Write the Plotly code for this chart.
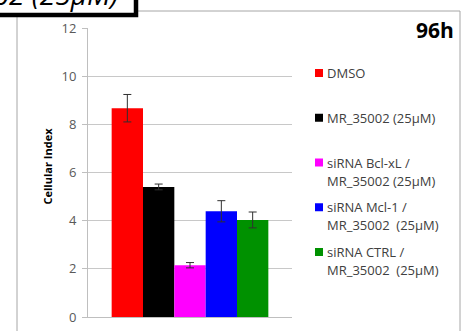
import plotly.graph_objects as go

# ---- data ----
categories = ["DMSO", "MR_35002 (25µM)", "siRNA Bcl-xL /\nMR_35002 (25µM)",
              "siRNA Mcl-1 /\nMR_35002\u00a0\u00a0(25µM)", "siRNA CTRL /\nMR_35002\u00a0\u00a0(25µM)"]
values = [8.67, 5.40, 2.15, 4.39, 4.03]
errors = [0.57, 0.12, 0.11, 0.44, 0.33]
colors = ["#FF0000", "#000000", "#FF00FF", "#0000FF", "#009100"]
y_ticks = [0, 2, 4, 6, 8, 10, 12]
time_label = "96h"
y_title = "Cellular Index"
box_title = "MR_35002 (25µM)"

# ---- layout helpers (pixel -> paper) ----
W, H = 463, 331
L, R, T, B = 88, 292, 28, 317
def px(x): return (x - L) / (R - L)
def py(y): return (B - y) / (B - T)

FONT = "Open Sans"
fig = go.Figure()
for name, v, e, c in zip(categories, values, errors, colors):
    fig.add_trace(go.Bar(
        x=[""], y=[v], name=name, marker=dict(color=c, line=dict(width=0)),
        error_y=dict(type="data", array=[e], color="#303030", thickness=1, width=4),
        showlegend=False))

fig.update_layout(
    width=W, height=H, barmode="group", bargap=0.232,
    margin=dict(l=L, r=W - R, t=T, b=H - B, autoexpand=False),
    paper_bgcolor="white", plot_bgcolor="white",
    font=dict(family=FONT, color="#595959"),
    xaxis=dict(showticklabels=False, showline=True, linecolor="#bfbfbf", linewidth=1,
               ticks="", showgrid=False, zeroline=False, automargin=False),
    yaxis=dict(range=[0, 12], tickvals=y_ticks, showline=True, linecolor="#bfbfbf",
               linewidth=1, ticks="outside", ticklen=5, tickcolor="#bfbfbf",
               gridcolor="#c8c8c8", gridwidth=1, zeroline=False, automargin=False,
               ticklabelstandoff=3,
               tickfont=dict(size=13, color="#595959", family=FONT)),
)

shapes = []
# chart border
shapes.append(dict(type="rect", xref="paper", yref="paper", x0=px(17), x1=px(460),
                   y0=py(345), y1=py(11), line=dict(color="#a6a6a6", width=1),
                   fillcolor="rgba(0,0,0,0)", layer="below"))
# title box
shapes.append(dict(type="rect", xref="paper", yref="paper", x0=px(-20), x1=px(136),
                   y0=py(15), y1=py(-20), line=dict(color="black", width=4.5),
                   fillcolor="white", layer="above"))

annotations = []
annotations.append(dict(text=box_title, xref="paper", yref="paper", x=px(120), y=py(15),
                        xanchor="right", yanchor="bottom", showarrow=False,
                        font=dict(family=FONT, size=28, color="black", style="italic")))
annotations.append(dict(text="<b>" + time_label + "</b>", xref="paper", yref="paper",
                        x=px(456), y=py(30), xanchor="right", yanchor="middle", showarrow=False,
                        font=dict(family=FONT, size=21, color="black")))
annotations.append(dict(text="<b>" + y_title + "</b>", xref="paper", yref="paper",
                        x=px(47), y=py(166.5), textangle=-90, xanchor="center",
                        yanchor="middle", showarrow=False,
                        font=dict(family=FONT, size=11, color="black")))

# manual legend
leg_y0, leg_gap, line_h = 73, 44.75, 18
for i, (name, c) in enumerate(zip(categories, colors)):
    yc = leg_y0 + i * leg_gap
    shapes.append(dict(type="rect", xref="paper", yref="paper", x0=px(315), x1=px(323),
                       y0=py(yc + 4), y1=py(yc - 4), line=dict(width=0), fillcolor=c,
                       layer="above"))
    for j, line in enumerate(name.split("\n")):
        annotations.append(dict(text=line, xref="paper", yref="paper", x=px(325),
                                y=py(yc + j * line_h), xanchor="left", yanchor="middle",
                                showarrow=False,
                                font=dict(family=FONT, size=13, color="#404040")))

fig.update_layout(shapes=shapes, annotations=annotations)
fig.write_html("out.html", config={"displayModeBar": False},
               post_script="document.body.style.margin='0px';")
